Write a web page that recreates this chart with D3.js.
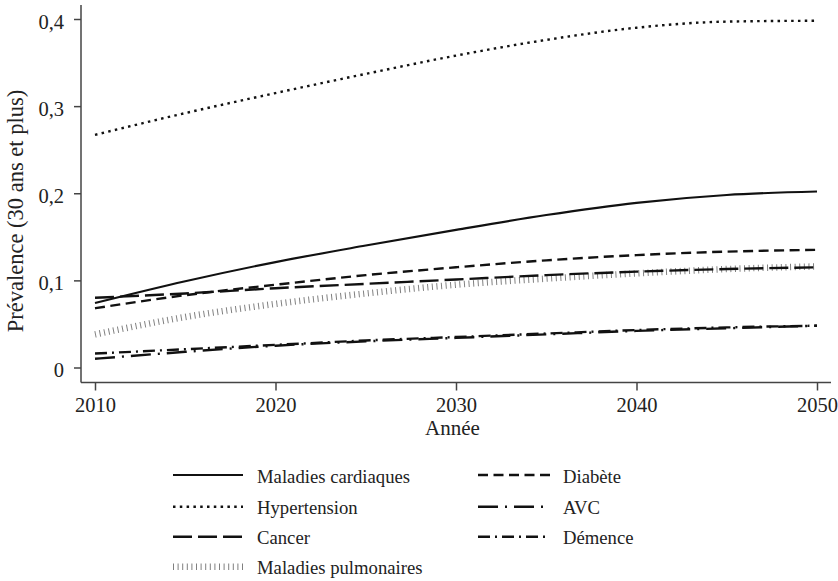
<!DOCTYPE html>
<html><head><meta charset="utf-8">
<script src="https://cdn.jsdelivr.net/npm/d3@7/dist/d3.min.js"></script>
<style>body{margin:0;background:#fff}svg{display:block}</style>
</head><body><svg id="c" width="838" height="581"></svg>
<script>
const years = [2010, 2015, 2020, 2025, 2030, 2035, 2040, 2045, 2050];
const cardiaques = [0.074, 0.099, 0.121, 0.140, 0.158, 0.175, 0.189, 0.198, 0.202];
const hypertension = [0.267, 0.292, 0.315, 0.337, 0.358, 0.376, 0.390, 0.397, 0.398];
const cancer = [0.080, 0.085, 0.091, 0.096, 0.101, 0.106, 0.110, 0.113, 0.115];
const pulmonaires = [0.038, 0.058, 0.073, 0.085, 0.095, 0.102, 0.108, 0.113, 0.116];
const diabete = [0.068, 0.083, 0.095, 0.106, 0.115, 0.123, 0.129, 0.133, 0.135];
const avc = [0.010, 0.018, 0.025, 0.030, 0.034, 0.038, 0.042, 0.045, 0.048];
const demence = [0.016, 0.021, 0.026, 0.031, 0.035, 0.039, 0.043, 0.046, 0.048];
const yTicks = [0, 0.1, 0.2, 0.3, 0.4];
const yTickLabels = ["0", "0,1", "0,2", "0,3", "0,4"];
const xTicks = [2010, 2020, 2030, 2040, 2050];

const FONT = "'Liberation Serif', 'Times New Roman', Times, serif";
const series = [
  {name: "Maladies cardiaques", values: cardiaques, dash: null, w: 2.2, color: "#111", col: 0, row: 0},
  {name: "Hypertension", values: hypertension, dash: "2.5,4.3", w: 2.4, color: "#111", col: 0, row: 1},
  {name: "Cancer", values: cancer, dash: "19,6", w: 2.4, color: "#111", col: 0, row: 2},
  {name: "Maladies pulmonaires", values: pulmonaires, dash: "1,3.6", w: 6.5, color: "#808080", col: 0, row: 3},
  {name: "Diabète", values: diabete, dash: "10,5.5", w: 2.4, color: "#111", col: 1, row: 0},
  {name: "AVC", values: avc, dash: "20,7,2,7", w: 2.4, color: "#111", col: 1, row: 1},
  {name: "Démence", values: demence, dash: "12,5,2,5", w: 2.4, color: "#111", col: 1, row: 2}
];

const svg = d3.select("#c");
const x = d3.scaleLinear().domain([2010, 2050]).range([95, 817]);
const y = d3.scaleLinear().domain([0, 0.4]).range([367.5, 19]);

const yAxis = svg.append("g").attr("transform", "translate(81,0)")
  .call(d3.axisLeft(y).tickValues(yTicks).tickSize(7).tickPadding(10).tickFormat((d, i) => yTickLabels[i]));
yAxis.select(".domain").remove();
yAxis.selectAll(".tick text").attr("dy", "0.45em");
svg.append("line").attr("x1", 81).attr("x2", 81).attr("y1", 5).attr("y2", 382.5).attr("stroke", "#444").attr("stroke-width", 1.5);
const xAxis = svg.append("g").attr("transform", "translate(0,382.5)")
  .call(d3.axisBottom(x).tickValues(xTicks).tickSize(8).tickPadding(7).tickFormat(d3.format("d")));
xAxis.select(".domain").remove();
svg.append("line").attr("x1", 81).attr("x2", 831).attr("y1", 382.5).attr("y2", 382.5).attr("stroke", "#444").attr("stroke-width", 1.5);
svg.selectAll("g").attr("font-family", FONT);
svg.selectAll(".tick line").attr("stroke", "#444").attr("stroke-width", 1.5);
svg.selectAll(".tick text").attr("font-family", FONT).attr("font-size", 20.5).attr("fill", "#222");

svg.append("text").attr("x", 452.5).attr("y", 435).attr("text-anchor", "middle")
  .attr("font-family", FONT).attr("font-size", 21).attr("fill", "#222").text("Année");
svg.append("text").attr("transform", "translate(23,211) rotate(-90)").attr("text-anchor", "middle")
  .attr("font-family", FONT).attr("font-size", 22.5).attr("fill", "#222").text("Prévalence (30 ans et plus)");

const line = d3.line().x((d, i) => x(years[i])).y(d => y(d)).curve(d3.curveMonotoneX);
const order = [3, 0, 4, 2, 1, 5, 6];
order.forEach(k => {
  const s = series[k];
  svg.append("path").attr("d", line(s.values)).attr("fill", "none")
    .attr("stroke", s.color).attr("stroke-width", s.w)
    .attr("stroke-dasharray", s.dash);
});

const legX = [173, 478], legLen = [70, 72], textX = [257, 563], rowY = [475, 506.7, 536.7, 566.7];
series.forEach(s => {
  const lx = legX[s.col], ly = rowY[s.row];
  svg.append("line").attr("x1", lx).attr("x2", lx + legLen[s.col]).attr("y1", ly).attr("y2", ly)
    .attr("stroke", s.color).attr("stroke-width", s.w).attr("stroke-dasharray", s.dash);
  svg.append("text").attr("x", textX[s.col]).attr("y", ly + 7.5)
    .attr("font-family", FONT).attr("font-size", 18.7).attr("fill", "#222").text(s.name);
});
</script></body></html>
